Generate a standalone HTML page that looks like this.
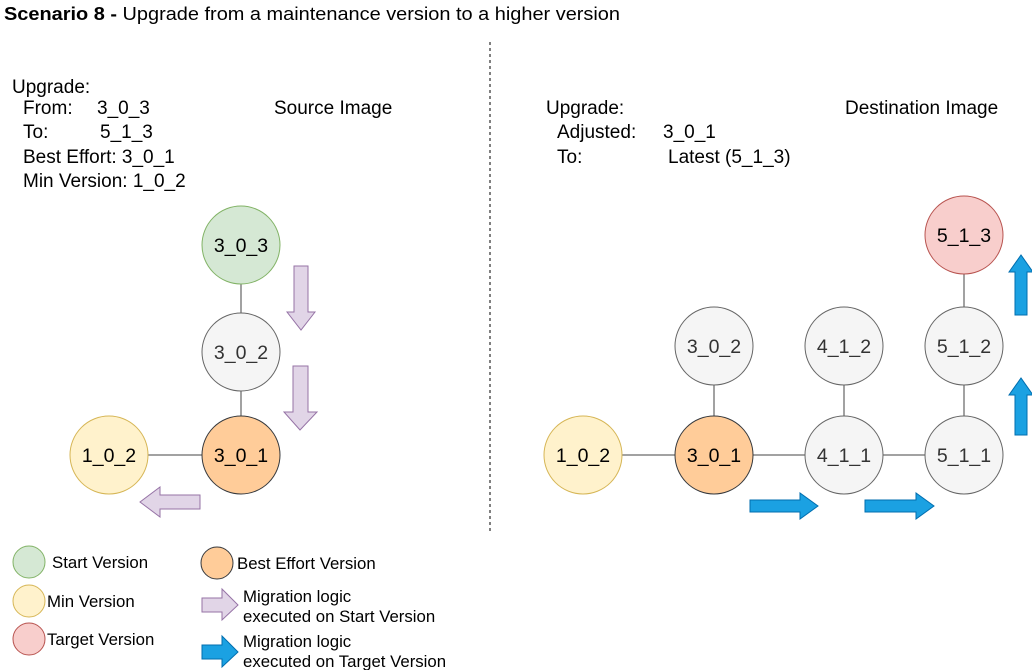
<!DOCTYPE html>
<html><head><meta charset="utf-8"><style>
body{margin:0;background:#fff;width:1032px;height:670px;overflow:hidden}
svg{display:block;font-family:"Liberation Sans",sans-serif}
</style></head><body>
<svg width="1032" height="670" viewBox="0 0 1032 670">
<text x="4" y="20" font-size="18" fill="#000" textLength="616" lengthAdjust="spacingAndGlyphs"><tspan font-weight="bold">Scenario 8 -</tspan> Upgrade from a maintenance version to a higher version</text>
<line x1="490" y1="42" x2="490" y2="532" stroke="#000" stroke-dasharray="3,3"/>
<g font-size="19" fill="#000">
<text x="12" y="93">Upgrade:</text>
<text x="23" y="114">From:</text><text x="97" y="114">3_0_3</text>
<text x="23" y="138">To:</text><text x="100" y="138">5_1_3</text>
<text x="23" y="163">Best Effort: 3_0_1</text>
<text x="23" y="187">Min Version: 1_0_2</text>
<text x="274" y="114">Source Image</text>
</g>
<g font-size="19" fill="#000">
<text x="546" y="114">Upgrade:</text>
<text x="557" y="138">Adjusted:</text><text x="663" y="138">3_0_1</text>
<text x="557" y="163">To:</text><text x="668" y="163">Latest (5_1_3)</text>
<text x="845" y="114">Destination Image</text>
</g>
<g stroke="#444" stroke-width="1">
<line x1="241" y1="284" x2="241" y2="313"/><line x1="241" y1="391" x2="241" y2="416"/>
<line x1="148" y1="455" x2="202" y2="455"/>
<line x1="622" y1="455" x2="675" y2="455"/><line x1="753" y1="455" x2="805" y2="455"/>
<line x1="883" y1="455" x2="925" y2="455"/><line x1="714" y1="385" x2="714" y2="416"/>
<line x1="844" y1="385" x2="844" y2="416"/><line x1="964" y1="385" x2="964" y2="416"/>
<line x1="964" y1="274" x2="964" y2="307"/>
</g>
<g font-size="19.5" text-anchor="middle">
<g><circle cx="241" cy="245" r="39" fill="#d5e8d4" stroke="#82b366"/><text x="241" y="252">3_0_3</text></g>
<g><circle cx="241" cy="352" r="39" fill="#f5f5f5" stroke="#666"/><text x="241" y="359" fill="#333">3_0_2</text></g>
<g><circle cx="241" cy="455" r="39" fill="#ffcc99" stroke="#36393d"/><text x="241" y="462">3_0_1</text></g>
<g><circle cx="109" cy="455" r="39" fill="#fff2cc" stroke="#d6b656"/><text x="109" y="462">1_0_2</text></g>
<g><circle cx="583" cy="455" r="39" fill="#fff2cc" stroke="#d6b656"/><text x="583" y="462">1_0_2</text></g>
<g><circle cx="714" cy="455" r="39" fill="#ffcc99" stroke="#36393d"/><text x="714" y="462">3_0_1</text></g>
<g><circle cx="714" cy="346" r="39" fill="#f5f5f5" stroke="#666"/><text x="714" y="353" fill="#333">3_0_2</text></g>
<g><circle cx="844" cy="455" r="39" fill="#f5f5f5" stroke="#666"/><text x="844" y="462" fill="#333">4_1_1</text></g>
<g><circle cx="844" cy="346" r="39" fill="#f5f5f5" stroke="#666"/><text x="844" y="353" fill="#333">4_1_2</text></g>
<g><circle cx="964" cy="455" r="39" fill="#f5f5f5" stroke="#666"/><text x="964" y="462" fill="#333">5_1_1</text></g>
<g><circle cx="964" cy="346" r="39" fill="#f5f5f5" stroke="#666"/><text x="964" y="353" fill="#333">5_1_2</text></g>
<g><circle cx="964" cy="235" r="39" fill="#f8cecc" stroke="#b85450"/><text x="964" y="242">5_1_3</text></g>
</g>
<g fill="#e1d5e7" stroke="#9673a6">
<polygon points="294,266 308,266 308,312 315,312 301,330 287,312 294,312"/>
<polygon points="293,366 308,366 308,412 317,412 300,430 284,412 293,412"/>
<polygon points="200,495 200,509 160,509 160,517 140,502 160,487 160,495"/>
<polygon points="202,598 222,598 222,589 238,605 222,620 222,612 202,612"/>
</g>
<g fill="#1ba1e2" stroke="#006eaf">
<polygon points="750,500 800,500 800,493 818,506 800,519 800,512 750,512"/>
<polygon points="865,500 916,500 916,493 934,506 916,519 916,512 865,512"/>
<polygon points="1015,435 1015,395 1009,395 1021,378 1033,395 1027,395 1027,435"/>
<polygon points="1015,315 1015,272 1009,272 1021,255 1033,272 1027,272 1027,315"/>
<polygon points="202,645 222,645 222,636 238,652 222,667 222,659 202,659"/>
</g>
<g font-size="16.8" fill="#000">
<g><circle cx="29" cy="562" r="16" fill="#d5e8d4" stroke="#82b366"/><text x="52" y="568">Start Version</text></g>
<g><circle cx="29" cy="601" r="16" fill="#fff2cc" stroke="#d6b656"/><text x="47" y="607">Min Version</text></g>
<g><circle cx="29" cy="639" r="16" fill="#f8cecc" stroke="#b85450"/><text x="47" y="645">Target Version</text></g>
<g><circle cx="217" cy="563" r="16" fill="#ffcc99" stroke="#36393d"/><text x="237" y="569">Best Effort Version</text></g>
<text x="243" y="602">Migration logic<tspan x="243" y="622">executed on Start Version</tspan></text>
<text x="243" y="647">Migration logic<tspan x="243" y="667">executed on Target Version</tspan></text>
</g>
</svg>
</body></html>
